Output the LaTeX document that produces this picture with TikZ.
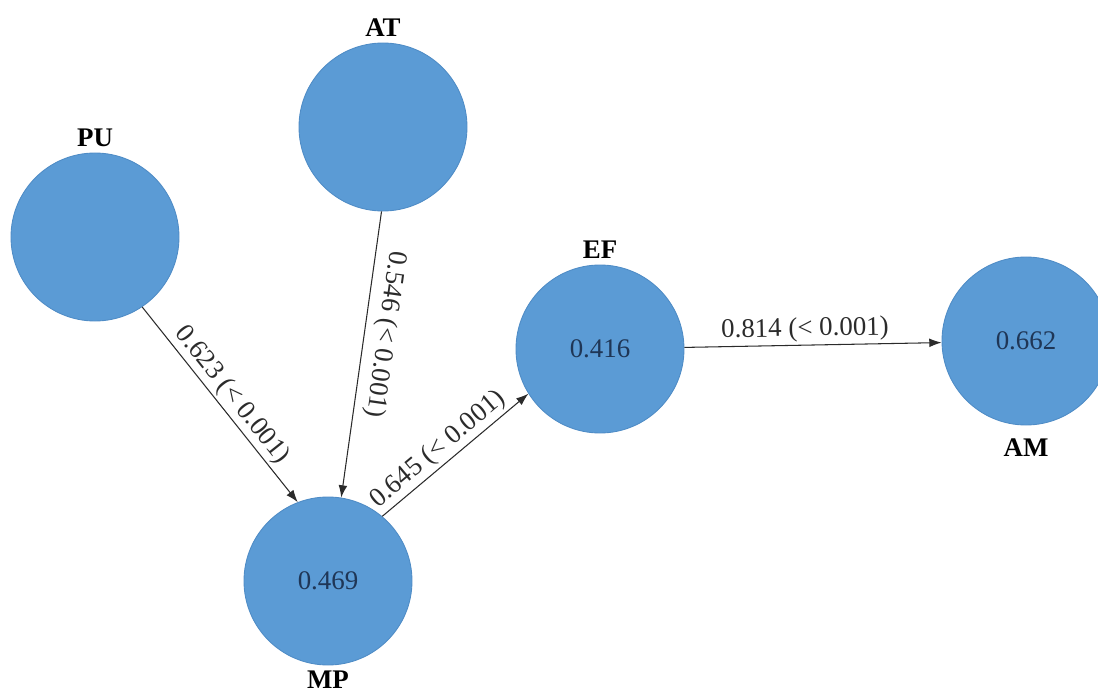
\documentclass[tikz,border=0pt]{standalone}
\usepackage{fontspec}
\setmainfont{Liberation Serif}
\usepackage{tikz}
\usetikzlibrary{arrows.meta}
\usetikzlibrary{positioning}
\definecolor{ConstructFill}{HTML}{5B9BD5}
\definecolor{ConstructEdge}{HTML}{4F8CC6}
\definecolor{RsqText}{HTML}{1F3656}
\definecolor{PathLine}{HTML}{2B2B2B}

\begin{document}
\begin{tikzpicture}[
    font=\fontsize{15.3}{18}\selectfont,
    construct/.style={circle, minimum size=3.36cm, inner sep=0pt,
      fill=ConstructFill, draw=ConstructEdge, line width=0.5pt, text=RsqText},
    varname/.style={font=\fontsize{15.3}{18}\selectfont\bfseries, text=black},
    pathline/.style={-{Latex[length=7pt,width=5pt]}, line width=0.6pt, PathLine},
    coef/.style={sloped, above, inner sep=1.5pt, text=PathLine}
  ]
    \useasboundingbox (0,0) rectangle (21.96,13.96);
    % Constructs
    \node[construct, label={[varname]above:PU}] (PU) at (1.90,9.22) {};
    \node[construct, label={[varname]above:AT}] (AT) at (7.66,11.42) {};
    \node[construct, label={[varname]above:EF}] (EF) at (12.00,6.98) {0.416};
    \node[construct, label={[varname, label distance=4pt]below:AM}] (AM) at (20.52,7.14) {0.662};
    \node[construct, label={[varname, inner sep=2pt, label distance=1pt]below:MP}] (MP) at (6.56,2.34) {0.469};
    % Paths
    \draw[pathline] (PU.-56) -- (MP.111)
    node[coef, pos=0.5] {0.623 (< 0.001)};
    \draw[pathline] (AT.-91) -- (MP.81)
    node[coef, pos=0.42, allow upside down, yshift=3pt] {0.546 (< 0.001)};
    \draw[pathline] (MP.50) -- (EF.212)
    node[coef, pos=0.45] {0.645 (< 0.001)};
    \draw[pathline] (EF) -- (AM)
    node[coef, pos=0.47] {0.814 (< 0.001)};
  \end{tikzpicture}
\end{document}
